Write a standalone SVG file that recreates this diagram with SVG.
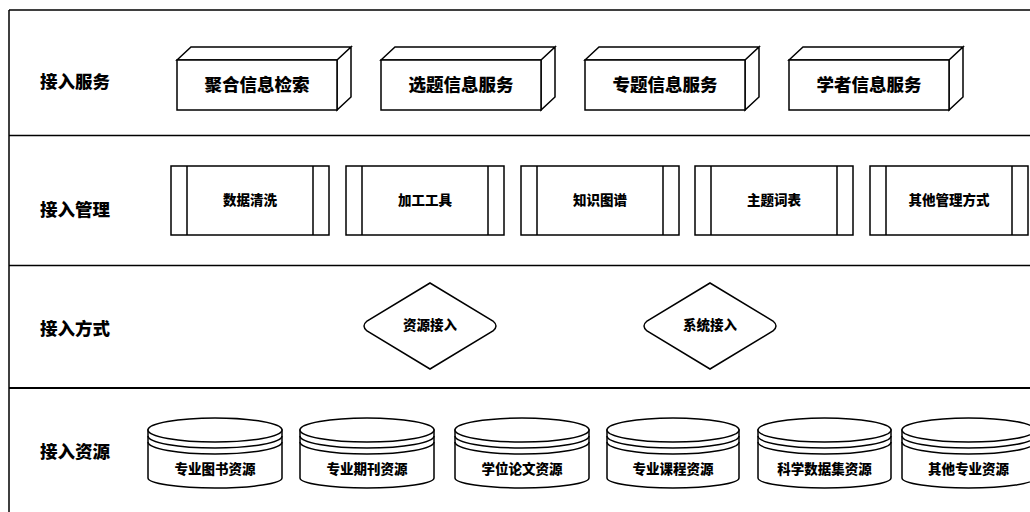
<svg xmlns="http://www.w3.org/2000/svg" width="1030" height="512" viewBox="0 0 1030 512">
<style>
.sh{fill:#fff;stroke:#000;stroke-width:1.5;stroke-linejoin:miter}
.ln{fill:none;stroke:#000;stroke-width:1.5}
.t{font-family:"Liberation Sans","Noto Sans CJK SC",sans-serif;font-weight:900;fill:#000;text-anchor:middle;dominant-baseline:central}
.lbl{font-size:17.5px;text-anchor:start}
.big{font-size:17.5px}
.sm{font-size:13.5px}
</style>
<rect width="1030" height="512" fill="#fff"/>
<g id="frame">
<path class="ln" d="M9,10 H1030 M9,10 V512 M9,135.5 H1030 M9,265.5 H1030"/>
<path d="M9,388 H1030" fill="none" stroke="#000" stroke-width="2.2"/>
</g>
<g id="row-labels">
<text class="t lbl" x="40" y="82">接入服务</text>
<text class="t lbl" x="40" y="210">接入管理</text>
<text class="t lbl" x="40" y="329">接入方式</text>
<text class="t lbl" x="40" y="452">接入资源</text>
</g>
<g id="svc1"><path class="sh" d="M177,60 L191,47 H351 L337,60 Z M337,60 L351,47 V97 L337,110 Z"/><rect class="sh" x="177" y="60" width="160" height="50"/><text class="t big" x="257" y="85">聚合信息检索</text></g>
<g id="svc2"><path class="sh" d="M381,60 L395,47 H555 L541,60 Z M541,60 L555,47 V97 L541,110 Z"/><rect class="sh" x="381" y="60" width="160" height="50"/><text class="t big" x="461" y="85">选题信息服务</text></g>
<g id="svc3"><path class="sh" d="M585,60 L599,47 H759 L745,60 Z M745,60 L759,47 V97 L745,110 Z"/><rect class="sh" x="585" y="60" width="160" height="50"/><text class="t big" x="665" y="85">专题信息服务</text></g>
<g id="svc4"><path class="sh" d="M789,60 L803,47 H963 L949,60 Z M949,60 L963,47 V97 L949,110 Z"/><rect class="sh" x="789" y="60" width="160" height="50"/><text class="t big" x="869" y="85">学者信息服务</text></g>
<g id="mgr1"><rect class="sh" x="171" y="166" width="158" height="69"/><path class="ln" d="M187,166 V235 M313,166 V235"/><text class="t sm" x="250" y="200">数据清洗</text></g>
<g id="mgr2"><rect class="sh" x="346" y="166" width="158" height="69"/><path class="ln" d="M362,166 V235 M488,166 V235"/><text class="t sm" x="425" y="200">加工工具</text></g>
<g id="mgr3"><rect class="sh" x="521" y="166" width="158" height="69"/><path class="ln" d="M537,166 V235 M663,166 V235"/><text class="t sm" x="600" y="200">知识图谱</text></g>
<g id="mgr4"><rect class="sh" x="695" y="166" width="158" height="69"/><path class="ln" d="M711,166 V235 M837,166 V235"/><text class="t sm" x="774" y="200">主题词表</text></g>
<g id="mgr5"><rect class="sh" x="870" y="166" width="158" height="69"/><path class="ln" d="M886,166 V235 M1012,166 V235"/><text class="t sm" x="949" y="200">其他管理方式</text></g>
<g id="way1"><path class="sh" d="M430,283 L493,321 Q499,326 493,331 L430,369 L367,331 Q361,326 367,321 Z"/><text class="t sm" x="430" y="325">资源接入</text></g>
<g id="way2"><path class="sh" d="M710,283 L773,321 Q779,326 773,331 L710,369 L647,331 Q641,326 647,321 Z"/><text class="t sm" x="710" y="325">系统接入</text></g>
<g id="res1"><path class="sh" d="M148,430 V478 A67 10 0 0 0 282,478 V430 Z"/><ellipse class="sh" cx="215" cy="430" rx="67" ry="12"/><path class="ln" d="M148,436 A67 12 0 0 0 282,436 M148,442 A67 12 0 0 0 282,442"/><text class="t sm" x="215" y="469">专业图书资源</text></g>
<g id="res2"><path class="sh" d="M300,430 V478 A67 10 0 0 0 434,478 V430 Z"/><ellipse class="sh" cx="367" cy="430" rx="67" ry="12"/><path class="ln" d="M300,436 A67 12 0 0 0 434,436 M300,442 A67 12 0 0 0 434,442"/><text class="t sm" x="367" y="469">专业期刊资源</text></g>
<g id="res3"><path class="sh" d="M455,430 V478 A67 10 0 0 0 589,478 V430 Z"/><ellipse class="sh" cx="522" cy="430" rx="67" ry="12"/><path class="ln" d="M455,436 A67 12 0 0 0 589,436 M455,442 A67 12 0 0 0 589,442"/><text class="t sm" x="522" y="469">学位论文资源</text></g>
<g id="res4"><path class="sh" d="M607,430 V478 A66 10 0 0 0 739,478 V430 Z"/><ellipse class="sh" cx="673" cy="430" rx="66" ry="12"/><path class="ln" d="M607,436 A66 12 0 0 0 739,436 M607,442 A66 12 0 0 0 739,442"/><text class="t sm" x="673" y="469">专业课程资源</text></g>
<g id="res5"><path class="sh" d="M758,430 V478 A66.5 10 0 0 0 891,478 V430 Z"/><ellipse class="sh" cx="824.5" cy="430" rx="66.5" ry="12"/><path class="ln" d="M758,436 A66.5 12 0 0 0 891,436 M758,442 A66.5 12 0 0 0 891,442"/><text class="t sm" x="824.5" y="469">科学数据集资源</text></g>
<g id="res6"><path class="sh" d="M902,430 V478 A66.5 10 0 0 0 1035,478 V430 Z"/><ellipse class="sh" cx="968.5" cy="430" rx="66.5" ry="12"/><path class="ln" d="M902,436 A66.5 12 0 0 0 1035,436 M902,442 A66.5 12 0 0 0 1035,442"/><text class="t sm" x="968.5" y="469">其他专业资源</text></g>
<g id="connectors"></g>
</svg>
